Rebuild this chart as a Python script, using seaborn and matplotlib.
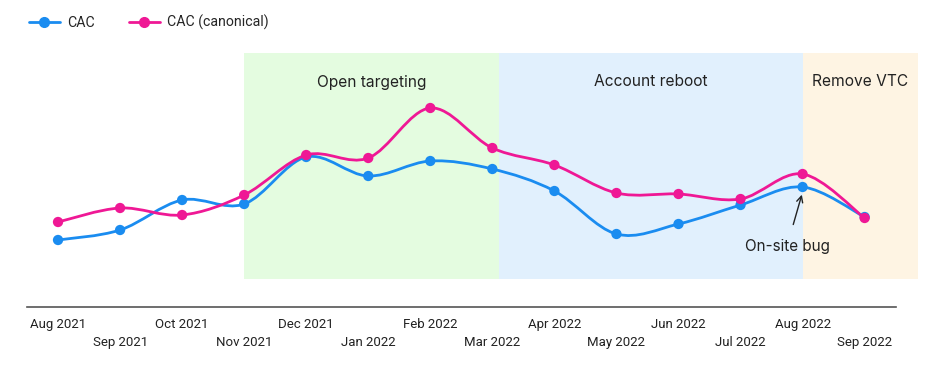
import numpy as np
import pandas as pd
import matplotlib
matplotlib.use("Agg")
import matplotlib.pyplot as plt
from matplotlib.path import Path
from matplotlib.patches import PathPatch
from matplotlib.lines import Line2D
import seaborn as sns

# data (arbitrary units, y axis is hidden)
months = ["Aug 2021", "Sep 2021", "Oct 2021", "Nov 2021", "Dec 2021", "Jan 2022", "Feb 2022",
          "Mar 2022", "Apr 2022", "May 2022", "Jun 2022", "Jul 2022", "Aug 2022", "Sep 2022"]
cac = [60, 70, 100, 96, 143, 124, 139, 131, 109, 66, 76, 95, 113, 83]
cac_canonical = [78, 92, 85, 105, 145, 142, 192, 152, 135, 107, 106, 101, 126, 82]

# shaded periods: (label, start month, end month)
periods = [("Open targeting", "Nov 2021", "Mar 2022", "#e4fce0"),
           ("Account reboot", "Mar 2022", "Aug 2022", "#e1f0fd"),
           ("Remove VTC", "Aug 2022", None, "#fef4e3")]

blue = "#1a8cf0"
pink = "#ef1895"

sns.set_theme(style="white")
plt.rcParams["font.family"] = ["Roboto", "DejaVu Sans"]

df = pd.DataFrame({"month": months * 2,
                   "value": cac + cac_canonical,
                   "series": ["CAC"] * len(months) + ["CAC (canonical)"] * len(months)})
df["x"] = df["month"].map({m: i for i, m in enumerate(months)})

fig = plt.figure(figsize=(9.36, 3.73), dpi=100)
ax = fig.add_axes([27 / 936, 66 / 373, 891 / 936, 254 / 373])

x_end = len(months) - 1 + 0.86
ax.set_xlim(-0.5, x_end)
ax.set_ylim(-7, 247)

idx = {m: i for i, m in enumerate(months)}
for label, start, end, color in periods:
    x0 = idx[start]
    x1 = idx[end] if end else x_end
    if end == "Mar 2022":
        x1 += 0.1
    if start == "Mar 2022":
        x0 += 0.1
    ax.fill_between([x0, x1], 21, 247, color=color, lw=0, zorder=0)
    ax.text((x0 + x1) / 2, 218, label, ha="center", va="center", fontsize=11.2,
            family=["Inter", "DejaVu Sans"], color="#222222")


def smooth_path(xs, ys):
    pts = np.column_stack([xs, ys]).astype(float)
    p = np.vstack([pts[0], pts, pts[-1]])
    verts = [tuple(pts[0])]
    codes = [Path.MOVETO]
    for i in range(1, len(p) - 2):
        c1 = p[i] + (p[i + 1] - p[i - 1]) / 6
        c2 = p[i + 1] - (p[i + 2] - p[i]) / 6
        verts += [tuple(c1), tuple(c2), tuple(p[i + 1])]
        codes += [Path.CURVE4] * 3
    return Path(verts, codes)


palette = {"CAC": blue, "CAC (canonical)": pink}
for z, (name, vals) in enumerate([("CAC", cac), ("CAC (canonical)", cac_canonical)]):
    ax.add_patch(PathPatch(smooth_path(range(len(months)), vals), fill=False,
                           edgecolor=palette[name], lw=2, zorder=2 + 2 * z))
    sns.scatterplot(data=df[df["series"] == name], x="x", y="value", color=palette[name],
                    s=55, edgecolor="none", ax=ax, zorder=3 + 2 * z, legend=False)

ax.annotate("On-site bug", xy=(12, cac[12] - 5), xytext=(11.75, 54), ha="center", va="center",
            fontsize=11, family=["Inter", "DejaVu Sans"], color="#222222",
            arrowprops=dict(arrowstyle="->", color="#222222", lw=1, shrinkA=8, shrinkB=2))

# x axis with alternating label rows
ax.set_xticks(range(0, len(months), 2))
ax.set_xticklabels(months[0::2], fontsize=9.5, color="#222222")
ax.set_xticks(range(1, len(months), 2), minor=True)
ax.set_xticklabels(months[1::2], minor=True, fontsize=9.5, color="#222222")
ax.tick_params(axis="x", which="major", length=0, pad=8)
ax.tick_params(axis="x", which="minor", length=0, pad=21)
ax.set_yticks([])
ax.set_xlabel("")
ax.set_ylabel("")
for s in ["top", "right", "left"]:
    ax.spines[s].set_visible(False)
ax.spines["bottom"].set_color("#555555")
ax.spines["bottom"].set_linewidth(1.2)
ax.spines["bottom"].set_bounds(-0.5, 13.5)

handles = [Line2D([], [], color=blue, lw=2, marker="o", markersize=7),
           Line2D([], [], color=pink, lw=2, marker="o", markersize=7)]
fig.legend(handles, ["CAC", "CAC (canonical)"], loc="upper left", bbox_to_anchor=(0.017, 0.995),
           ncol=2, frameon=False, fontsize=10.2, handlelength=2.2, columnspacing=2.4,
           handletextpad=0.5)

fig.savefig("out.png", dpi=100)
